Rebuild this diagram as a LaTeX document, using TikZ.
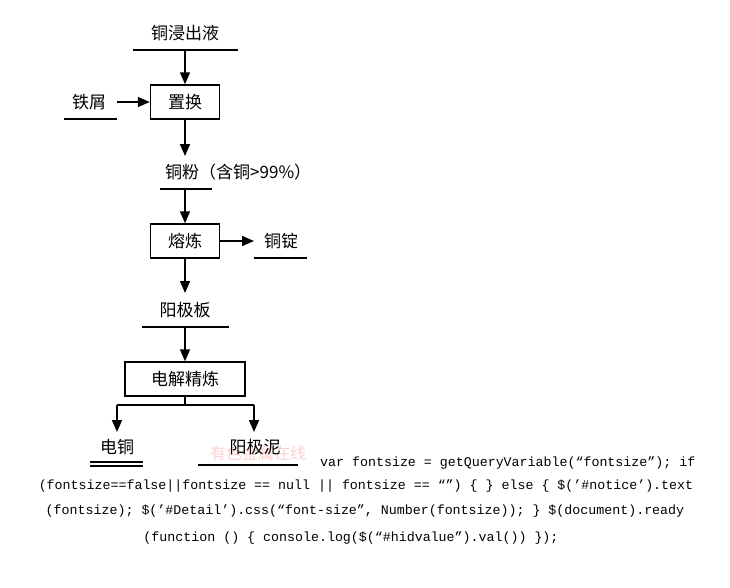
\documentclass[tikz,border=0pt]{standalone}
\usepackage{fontspec}
\newfontfamily\cjk{Noto Sans CJK SC}
\newfontfamily\codefont{Liberation Mono}
\usetikzlibrary{arrows.meta}
\begin{document}
\begin{tikzpicture}[x=1pt,y=-1pt,
  lbl/.style={font=\cjk\fontsize{17}{19}\selectfont, inner sep=0pt},
  procbox/.style={draw, line width=1.5pt, minimum height=34pt, font=\cjk\fontsize{17}{19}\selectfont, inner sep=0pt},
  uline/.style={line width=1.5pt},
  flow/.style={line width=1.6pt, -{Triangle[length=12pt,width=10pt]}},
  code/.style={font=\codefont\fontsize{13.3}{15}\selectfont, inner sep=0pt, text=black}]
\useasboundingbox (0,0) rectangle (730,587);
% top
\node[lbl] (jc) at (185,33) {铜浸出液};
\coordinate (jcl) at (133,50); \coordinate (jcr) at (238,50);
\draw[uline] (jcl) -- (jcr);
\coordinate (jcm) at (185,50);
\node[procbox, minimum width=69pt] (zh) at (185,102) {置换};
\draw[flow] (jcm) -- (zh.north);
% iron
\node[lbl] (tx) at (89,102) {铁屑};
\coordinate (txl) at (64,119); \coordinate (txr) at (117,119);
\draw[uline] (txl) -- (txr);
\coordinate (txa) at (117,102);
\draw[flow] (txa) -- (zh.west);
% copper powder
\coordinate (fa) at (185,156);
\draw[flow] (zh.south) -- (fa);
\node[lbl, anchor=west] (tf) at (165,172) {铜粉（含铜>99\%）};
\coordinate (tfl) at (160,189); \coordinate (tfr) at (212,189);
\draw[uline] (tfl) -- (tfr);
\coordinate (tfm) at (185,189);
\node[procbox, minimum width=69pt] (rl) at (185,241) {熔炼};
\draw[flow] (tfm) -- (rl.north);
% ingot
\coordinate (tda) at (254,241);
\draw[flow] (rl.east) -- (tda);
\node[lbl] (td) at (281,241) {铜锭};
\coordinate (tdl) at (254,258); \coordinate (tdr) at (307,258);
\draw[uline] (tdl) -- (tdr);
% anode plate
\coordinate (yb) at (185,293);
\draw[flow] (rl.south) -- (yb);
\node[lbl] (yjb) at (185,310) {阳极板};
\coordinate (ybl) at (142,327); \coordinate (ybr) at (229,327);
\draw[uline] (ybl) -- (ybr);
\coordinate (ybm) at (185,327);
\node[procbox, minimum width=120pt] (dj) at (185,379) {电解精炼};
\draw[flow] (ybm) -- (dj.north);
% split
\coordinate (sp) at (185,405);
\coordinate (spl) at (117,405); \coordinate (spr) at (254,405);
\coordinate (al) at (117,432); \coordinate (ar) at (254,432);
\draw[line width=1.6pt] (dj.south) -- (sp);
\draw[line width=1.6pt] (spl) -- (spr);
\draw[flow] (spl) -- (al);
\draw[flow] (spr) -- (ar);
% watermark
\node[font=\cjk\fontsize{16}{18}\selectfont, text=red!18, inner sep=0pt] (wm) at (258,453) {有色金属在线};
% outputs
\node[lbl] (dt) at (117,447) {电铜};
\coordinate (dtl1) at (90,462); \coordinate (dtr1) at (143,462);
\coordinate (dtl2) at (90,466); \coordinate (dtr2) at (143,466);
\draw[line width=1.2pt] (dtl1) -- (dtr1);
\draw[line width=1.2pt] (dtl2) -- (dtr2);
\node[lbl] (yjn) at (255,447) {阳极泥};
\coordinate (ynl) at (198,465); \coordinate (ynr) at (298,465);
\draw[uline] (ynl) -- (ynr);
% code text
\node[code, anchor=west] (c1) at (320,463) {var fontsize = getQueryVariable(“fontsize”); if};
\node[code] (c2) at (366,486) {(fontsize==false||fontsize == null || fontsize == “”) \{ \} else \{ \$(’\#notice’).text};
\node[code] (c3) at (365,511) {(fontsize); \$(’\#Detail’).css(“font-size”, Number(fontsize)); \} \$(document).ready};
\node[code] (c4) at (351,538) {(function () \{ console.log(\$(“\#hidvalue”).val()) \});};
\end{tikzpicture}
\end{document}
